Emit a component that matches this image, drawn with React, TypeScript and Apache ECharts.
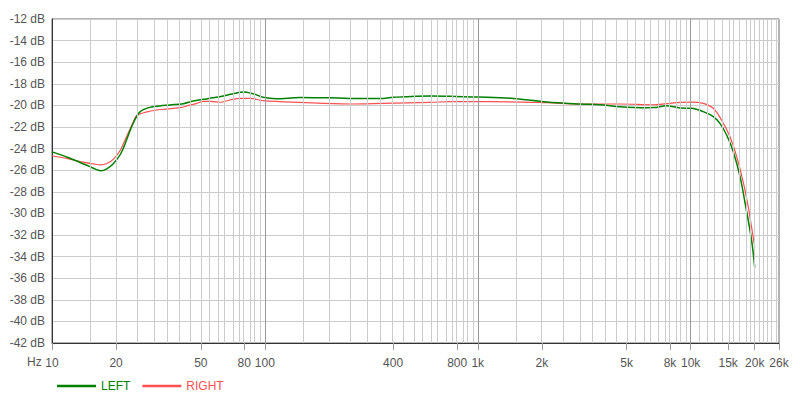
import React, { useEffect, useRef } from "react";
import * as echarts from "echarts";

// Frequencies (Hz) and levels (dB)
const leftFreq = [10, 12, 14, 15, 16, 17, 18, 19.4, 21, 22.4, 24, 25.9, 28.8, 32, 35.8, 41.4, 46, 51.4, 57, 63.8, 70, 76.4, 80.6, 85, 90, 98, 113, 146, 200, 250, 360, 400, 600, 740, 1000, 1470, 2110, 3020, 3750, 4660, 6200, 6700, 7700, 8340, 8920, 10100, 11460, 12770, 13730, 14760, 15860, 17060, 18000, 19300, 20000];
const leftDb = [-24.3, -24.85, -25.4, -25.65, -25.9, -26.05, -25.9, -25.4, -24.5, -23.2, -21.7, -20.6, -20.18, -20.05, -19.96, -19.84, -19.6, -19.44, -19.3, -19.13, -18.95, -18.79, -18.76, -18.85, -18.98, -19.25, -19.38, -19.28, -19.3, -19.35, -19.35, -19.25, -19.13, -19.16, -19.22, -19.35, -19.69, -19.87, -19.94, -20.12, -20.21, -20.2, -20.03, -20.12, -20.24, -20.27, -20.58, -21.04, -21.66, -22.74, -24.29, -26.6, -29.0, -32.4, -35.0];

const rightFreq = [10, 12, 14, 16, 17, 18, 19.4, 21, 22.4, 24, 25, 27.9, 31, 33.4, 39.9, 44, 47.9, 51.4, 56, 61.5, 68.5, 76.4, 85, 98, 146, 250, 360, 600, 740, 1140, 2110, 3020, 4660, 6710, 8000, 8920, 10100, 11460, 12770, 13960, 15300, 16450, 17660, 18650, 19300, 20000];
const rightDb = [-24.66, -24.95, -25.25, -25.45, -25.5, -25.4, -25.0, -24.1, -22.9, -21.6, -20.95, -20.6, -20.42, -20.36, -20.21, -20.0, -19.81, -19.62, -19.62, -19.71, -19.5, -19.35, -19.35, -19.55, -19.72, -19.87, -19.81, -19.72, -19.65, -19.65, -19.75, -19.87, -19.87, -19.94, -19.81, -19.72, -19.69, -19.81, -20.27, -21.35, -22.9, -24.75, -27.1, -29.4, -31.2, -33.1];

const tickFreqs = [10, 20, 50, 80, 100, 400, 800, 1000, 2000, 5000, 8000, 10000, 15000, 20000, 26000];
const tickLabels = ["10", "20", "50", "80", "100", "400", "800", "1k", "2k", "5k", "8k", "10k", "15k", "20k", "26k"];
const decadeFreqs = [100, 1000, 10000];

const FREQ_MIN = 10;
const FREQ_MAX = 26000;

function minorGridFreqs(): number[] {
  const out: number[] = [];
  for (let f = 15; f < 100; f += 5) out.push(f);
  for (let f = 150; f < 1000; f += 50) out.push(f);
  for (let f = 1500; f < 10000; f += 500) out.push(f);
  for (let f = 11000; f < 26000; f += 1000) out.push(f);
  return out;
}

const GREEN = "#008000";
const RED = "#ff5050";
const FONT = "'Liberation Sans', Arial, sans-serif";

export default function App() {
  const ref = useRef<HTMLDivElement>(null);
  useEffect(() => {
    if (!ref.current) return;
    const chart = echarts.init(ref.current, undefined, { renderer: "svg" });
    const lg = (f: number) => Math.log10(f);
    const labelFor = (v: number) => {
      let best = 0;
      let bd = Infinity;
      tickFreqs.forEach((f, i) => {
        const d = Math.abs(lg(f) - v);
        if (d < bd) {
          bd = d;
          best = i;
        }
      });
      return tickLabels[best];
    };
    chart.setOption({
      animation: false,
      textStyle: { fontFamily: FONT },
      grid: {
        left: 52,
        right: 21,
        top: 19,
        bottom: 57,
        show: true,
        borderColor: "#666",
        borderWidth: 1,
      },
      legend: {
        left: 52,
        top: 375,
        icon: "rect",
        itemWidth: 39,
        itemHeight: 2.5,
        itemGap: 12,
        textStyle: { fontSize: 12, fontFamily: FONT },
        data: [
          { name: "LEFT", textStyle: { color: GREEN } },
          { name: "RIGHT", textStyle: { color: RED } },
        ],
      },
      xAxis: {
        type: "value",
        min: lg(FREQ_MIN),
        max: lg(FREQ_MAX),
        axisLine: { show: true, lineStyle: { color: "#333", width: 1 } },
        axisTick: {
          show: true,
          length: 7,
          customValues: tickFreqs.map(lg),
          lineStyle: { color: "#999" },
        },
        axisLabel: {
          show: true,
          customValues: tickFreqs.map(lg),
          formatter: (v: number) => labelFor(v),
          color: "#555",
          fontSize: 12,
          fontFamily: FONT,
          margin: 14,
          showMinLabel: true,
          showMaxLabel: true,
        },
        splitLine: { show: false },
      },
      yAxis: {
        type: "value",
        min: -42,
        max: -12,
        interval: 2,
        axisLine: { show: true, lineStyle: { color: "#333", width: 1 } },
        axisTick: { show: false },
        axisLabel: {
          formatter: (v: number) => `${v} dB`,
          color: "#555",
          fontSize: 12,
          fontFamily: FONT,
          margin: 7,
        },
        splitLine: { show: true, lineStyle: { color: "#ccc", width: 1 } },
      },
      graphic: [
        {
          type: "text",
          left: 27,
          top: 356,
          style: { text: "Hz", fill: "#555", fontSize: 12, fontFamily: FONT },
        },
      ],
      series: [
        {
          name: "grid",
          type: "line",
          data: [],
          z: 1,
          silent: true,
          markLine: {
            silent: true,
            symbol: "none",
            label: { show: false },
            animation: false,
            data: [
              ...minorGridFreqs()
                .filter((f) => decadeFreqs.indexOf(f) < 0)
                .map((f) => ({ xAxis: lg(f), lineStyle: { color: "#ccc", width: 1, type: "solid" } })),
              ...decadeFreqs.map((f) => ({ xAxis: lg(f), lineStyle: { color: "#999", width: 1, type: "solid" } })),
            ],
          },
        },
        {
          name: "LEFT",
          type: "line",
          z: 3,
          showSymbol: false,
          smooth: 0.35,
          color: GREEN,
          lineStyle: { color: GREEN, width: 1.5 },
          data: leftFreq.map((f, i) => [lg(f), leftDb[i]]),
        },
        {
          name: "RIGHT",
          type: "line",
          z: 2,
          showSymbol: false,
          smooth: 0.35,
          color: RED,
          lineStyle: { color: RED, width: 1.2 },
          data: rightFreq.map((f, i) => [lg(f), rightDb[i]]),
        },
      ],
    });
    return () => chart.dispose();
  }, []);
  return (
    <div
      ref={ref}
      style={{ position: "absolute", left: 0, top: 0, width: 800, height: 400 }}
    />
  );
}
